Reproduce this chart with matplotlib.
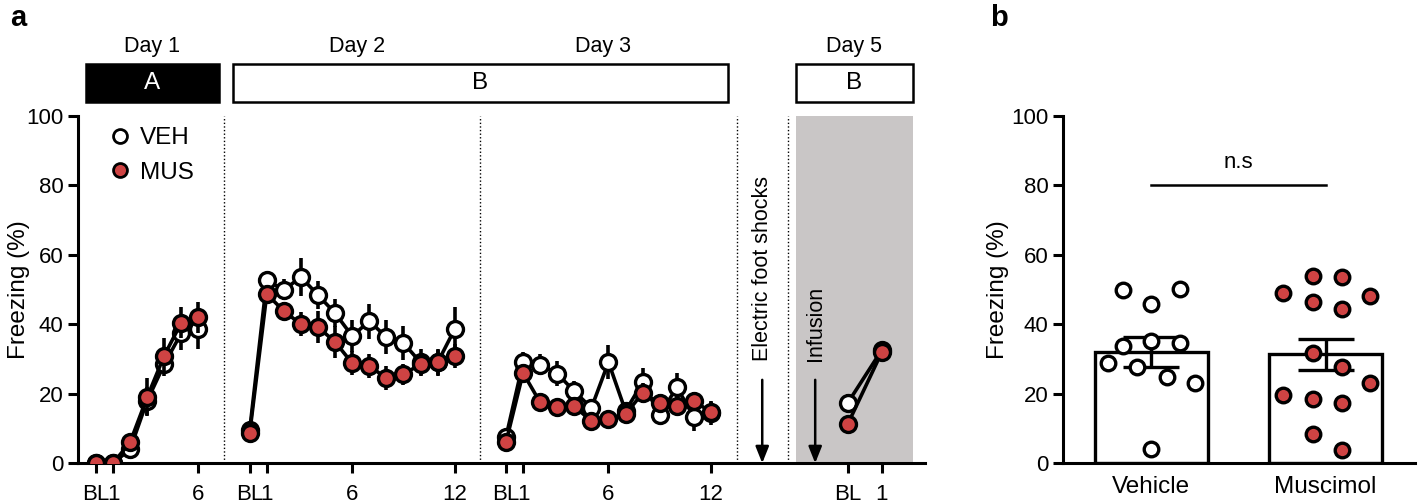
import matplotlib
matplotlib.use("Agg")
import matplotlib.pyplot as plt
from matplotlib.lines import Line2D
import numpy as np

plt.rcParams["font.family"] = ["Liberation Sans", "DejaVu Sans"]

RED = "#cf4343"
GRAY = "#c9c6c6"

# ---- panel a data (Freezing %, mean and SEM) ----
day1_veh = [0, 0, 4, 18, 28.5, 37.5, 38.5]
day1_veh_err = [0, 0, 1.5, 4, 3.5, 5, 5.5]
day1_mus = [0, 0, 6, 19, 31, 40.5, 42]
day1_mus_err = [0, 0, 1.5, 5.5, 5, 4.5, 4.5]

day2_veh = [9.5, 52.7, 49.9, 53.6, 48.4, 43.2, 36.6, 40.9, 36.3, 34.6, 29, 29, 38.6]
day2_veh_err = [1.5, 2, 3, 5.5, 4, 4, 4.5, 5, 5, 5, 4, 4, 6.5]
day2_mus = [8.6, 48.7, 43.8, 40, 39.2, 34.9, 28.8, 28, 24.5, 25.6, 28.5, 29, 30.8]
day2_mus_err = [2, 2, 2.5, 3.5, 4.5, 4.5, 3.5, 3.5, 3.5, 3, 3, 3.5, 3.5]

day3_veh = [7.5, 29, 28.4, 25.8, 20.7, 15.9, 29.1, 15, 23.3, 13.8, 21.9, 13.3, 14.4]
day3_veh_err = [1.5, 3, 3, 3.5, 3, 2.5, 5, 2.5, 4, 2.5, 4, 4, 3.5]
day3_mus = [6, 26, 17.5, 16.2, 16.4, 12.1, 12.7, 14.1, 20.2, 17.3, 16.4, 17.9, 14.7]
day3_mus_err = [1.5, 2, 2, 2, 2, 2, 2, 2, 3, 2.5, 2.5, 2.5, 3]

day5_veh = [17.3, 32.6]
day5_veh_err = [2.5, 2]
day5_mus = [11.2, 32]
day5_mus_err = [1.5, 2]

# session start positions on the trial axis (BL of each day)
day_starts = [0, 9, 24, 44]
day5_step = 2

# ---- panel b data ----
groups = ["Vehicle", "Muscimol"]
bar_means = [32.0, 31.4]
bar_sems = [4.2, 4.5]
veh_points = [49.9, 50.1, 45.8, 35.3, 33.7, 34.5, 28.9, 27.8, 24.7, 23.0, 4.0]
veh_offsets = [-0.165, 0.165, 0, 0, -0.165, 0.165, -0.25, -0.083, 0.09, 0.25, 0]
mus_points = [53.9, 53.5, 49.1, 48.0, 46.4, 44.3, 31.6, 27.8, 23.2, 19.6, 18.4, 17.4, 8.4, 3.7]
mus_offsets = [-0.075, 0.092, -0.247, 0.252, -0.075, 0.092, -0.075, 0.092, 0.252,
               -0.247, -0.075, 0.092, -0.075, 0.092]

fig = plt.figure(figsize=(14.18, 5.04), dpi=100)
ax = fig.add_axes([0.055, 0.081, 0.597, 0.689])
bx = fig.add_axes([0.7496, 0.081, 0.248, 0.689])

LW = 2.2


def style_axis(a, label_x):
    for s in ["top", "right"]:
        a.spines[s].set_visible(False)
    for s in ["left", "bottom"]:
        a.spines[s].set_linewidth(LW)
    a.tick_params(width=LW, length=7, labelsize=16, direction="out")
    a.set_ylim(0, 100)
    a.set_yticks([0, 20, 40, 60, 80, 100])
    a.set_ylabel("Freezing (%)", fontsize=17.5)
    a.yaxis.set_label_coords(label_x, 0.5)


style_axis(ax, -0.057)
ax.set_xlim(-1.05, 48.5)

ax.axvspan(41, 47.8, color=GRAY, lw=0, zorder=0)
for xv in [7.5, 22.5, 37.5, 40.5]:
    ax.plot([xv, xv], [0, 100], ls=(0, (1, 1.6)), color="black", lw=1.0, zorder=1)

series = [
    (day1_veh, day1_veh_err, day1_mus, day1_mus_err, day_starts[0], 1),
    (day2_veh, day2_veh_err, day2_mus, day2_mus_err, day_starts[1], 1),
    (day3_veh, day3_veh_err, day3_mus, day3_mus_err, day_starts[2], 1),
    (day5_veh, day5_veh_err, day5_mus, day5_mus_err, day_starts[3], day5_step),
]
for veh, veh_e, mus, mus_e, start, step in series:
    xs = start + step * np.arange(len(veh))
    ax.errorbar(xs, veh, yerr=veh_e, fmt="-o", color="black", lw=2.6, elinewidth=2.6,
                capsize=0, ms=11.5, mfc="white", mec="black", mew=2.4, zorder=3)
    ax.errorbar(xs, mus, yerr=mus_e, fmt="-o", color="black", lw=2.6, elinewidth=2.6,
                capsize=0, ms=11.5, mfc=RED, mec="black", mew=2.4, zorder=4)

# x ticks: BL, 1, 6, 12 for each day, BL and 1 for day 5
tick_map = {}
for start, n in [(day_starts[0], 6), (day_starts[1], 12), (day_starts[2], 12)]:
    tick_map[start] = "BL"
    tick_map[start + 1] = "1"
    tick_map[start + 6] = "6"
    tick_map[start + n] = str(n)
tick_map[day_starts[3]] = "BL"
tick_map[day_starts[3] + day5_step] = "1"
ax.set_xticks(list(tick_map.keys()))
ax.set_xticklabels(list(tick_map.values()))
ax.tick_params(axis="x", pad=8)

# legend
handles = [
    Line2D([], [], ls="none", marker="o", ms=10, mfc="white", mec="black", mew=2.0),
    Line2D([], [], ls="none", marker="o", ms=10, mfc=RED, mec="black", mew=2.0),
]
ax.legend(handles, ["VEH", "MUS"], loc="upper left", bbox_to_anchor=(0.006, 1.03),
          frameon=False, fontsize=17.5, handletextpad=0.25, labelspacing=0.5,
          handlelength=1.2)

# arrows and annotations
for xa in [39, 42.1]:
    ax.annotate("", xy=(xa, 0), xytext=(xa, 24),
                arrowprops=dict(arrowstyle="-|>,head_width=0.4,head_length=1.0",
                                color="black", lw=1.8, shrinkA=0, shrinkB=0))
ax.text(39, 29.5, "Electric foot shocks", rotation=90, ha="center", va="bottom",
        fontsize=15.5)
ax.text(42.1, 29.5, "Infusion", rotation=90, ha="center", va="bottom", fontsize=15.5)

# context boxes above the plot
boxes = [(-0.6, 7.2, "A", "black", "white"),
         (8.0, 37.0, "B", "white", "black"),
         (41.0, 47.8, "B", "white", "black")]
for x0, x1, lab, fc, tc in boxes:
    ax.add_patch(plt.Rectangle((x0, 104), x1 - x0, 11, facecolor=fc, edgecolor="black",
                               lw=1.8, clip_on=False))
    ax.text((x0 + x1) / 2, 109.5, lab, ha="center", va="center", fontsize=17.5, color=tc)
for xc, lab in [(3.3, "Day 1"), (15.3, "Day 2"), (29.7, "Day 3"), (44.4, "Day 5")]:
    ax.text(xc, 120, lab, ha="center", va="center", fontsize=15.5)

# ---- panel b ----
style_axis(bx, -0.153)
bx.set_xlim(-0.507, 1.51)
xb = np.arange(len(groups))
bx.bar(xb, bar_means, width=0.65, color="white", edgecolor="black", lw=2.4, zorder=2)
bx.errorbar(xb, bar_means, yerr=bar_sems, fmt="none", ecolor="black", elinewidth=2.4,
            capsize=20, capthick=2.4, zorder=3)
bx.scatter(xb[0] + np.array(veh_offsets), veh_points, s=110, facecolor="white",
           edgecolor="black", linewidth=2.4, zorder=4)
bx.scatter(xb[1] + np.array(mus_offsets), mus_points, s=110, facecolor=RED,
           edgecolor="black", linewidth=2.4, zorder=4)
bx.set_xticks(xb)
bx.set_xticklabels(groups, fontsize=17.5)
bx.tick_params(axis="x", length=0, pad=9)
bx.plot([xb[0], xb[1]], [80, 80], color="black", lw=1.8)
bx.text(0.5, 83.5, "n.s", ha="center", va="bottom", fontsize=16)

fig.text(0.007, 0.965, "a", fontsize=21, fontweight="bold", va="center")
fig.text(0.698, 0.965, "b", fontsize=21, fontweight="bold", va="center")

fig.savefig("out.png", dpi=100)
